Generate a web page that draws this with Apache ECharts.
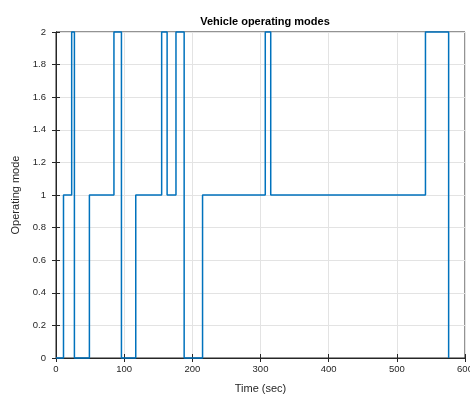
<!DOCTYPE html>
<html>
<head>
<meta charset="utf-8">
<script src="https://cdn.jsdelivr.net/npm/echarts@6/dist/echarts.min.js"></script>
<style>
  html, body { margin: 0; padding: 0; background: #fff; }
  #chart { width: 470px; height: 394px; }
</style>
</head>
<body>
<div id="chart"></div>
<script>
// switching times (sec) and the mode entered at each time
const times = [0, 11, 23, 27, 49, 85, 96, 117, 155, 163, 176, 188, 215, 307, 315, 542, 576];
const modes = [0, 1, 2, 0, 1, 2, 0, 1, 2, 1, 2, 0, 1, 2, 1, 2, 0];
const xTicks = [0, 100, 200, 300, 400, 500, 600];
const yTicks = [0, 0.2, 0.4, 0.6, 0.8, 1, 1.2, 1.4, 1.6, 1.8, 2];

const chart = echarts.init(document.getElementById("chart"));

let points = [];
for (let i = 0; i < times.length; i++) {
  points.push([times[i], modes[i]]);
}

const font = "Liberation Sans, Arial, sans-serif";
const axisColor = "#262626";

const option = {
  animation: false,
  title: {
    text: "Vehicle operating modes",
    left: 260,
    textAlign: "center",
    top: 11,
    textStyle: { fontFamily: font, fontSize: 11, fontWeight: "bold", color: "#000" },
  },
  grid: {
    left: 56, right: 5, top: 32, bottom: 36, outerBoundsMode: "none",
    show: true, borderColor: axisColor, borderWidth: 1,
  },
  xAxis: [
    {
      type: "value",
      min: 0,
      max: 600,
      interval: 100,
      name: "Time (sec)",
      nameLocation: "middle",
      nameGap: 25,
      nameTextStyle: { fontFamily: font, fontSize: 11, color: axisColor },
      axisLine: { lineStyle: { color: axisColor, width: 1 } },
      axisTick: { inside: true, length: 4, lineStyle: { color: axisColor } },
      axisLabel: {
        fontFamily: font,
        fontSize: 9.5,
        color: axisColor,
        margin: 6,
        formatter: (v) => (xTicks.includes(v) ? String(v) : ""),
      },
      splitLine: { show: true, lineStyle: { color: "#e3e3e3", width: 1 } },
    },
    {
      type: "value",
      position: "top",
      min: 0,
      max: 600,
      interval: 100,
      axisLine: { lineStyle: { color: axisColor, width: 1 } },
      axisTick: { inside: true, length: 4, lineStyle: { color: axisColor } },
      axisLabel: { show: false },
      splitLine: { show: false },
    },
  ],
  yAxis: [
    {
      type: "value",
      min: 0,
      max: 2,
      interval: 0.2,
      name: "Operating mode",
      nameLocation: "middle",
      nameGap: 31,
      nameTextStyle: { fontFamily: font, fontSize: 11, color: axisColor },
      axisLine: { show: true, lineStyle: { color: axisColor, width: 1 } },
      axisTick: { show: true, inside: true, length: 4, lineStyle: { color: axisColor } },
      axisLabel: {
        fontFamily: font,
        fontSize: 9.5,
        color: axisColor,
        margin: 10,
        formatter: (v) => {
          const t = yTicks.find((y) => Math.abs(y - v) < 1e-9);
          return t === undefined ? "" : String(t);
        },
      },
      splitLine: { show: true, lineStyle: { color: "#e3e3e3", width: 1 } },
    },
    {
      type: "value",
      position: "right",
      min: 0,
      max: 2,
      interval: 0.2,
      axisLine: { show: true, lineStyle: { color: axisColor, width: 1 } },
      axisTick: { show: true, inside: true, length: 4, lineStyle: { color: axisColor } },
      axisLabel: { show: false },
      splitLine: { show: false },
    },
  ],
  series: [
    {
      type: "line",
      step: "end",
      data: points,
      showSymbol: false,
      clip: false,
      lineStyle: { color: "#0072BD", width: 1.5 },
    },
  ],
};

chart.setOption(option);
</script>
</body>
</html>
